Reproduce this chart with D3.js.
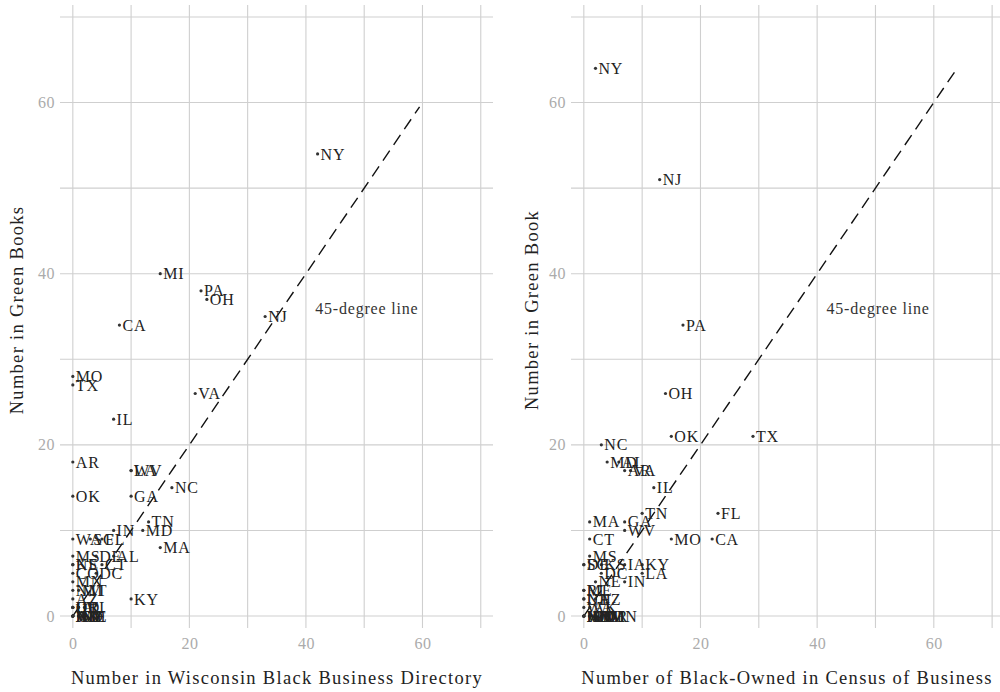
<!DOCTYPE html>
<html>
<head>
<meta charset="utf-8">
<script src="https://cdn.jsdelivr.net/npm/d3@7"></script>
<style>
  body { margin: 0; background: #fff; }
  text { font-family: "Liberation Serif", "DejaVu Serif", serif; }
</style>
</head>
<body>
<svg id="chart" width="1000" height="692"></svg>
<script>
// left panel: Wisconsin directory vs Green Books
var wiStates = ["NY","MI","PA","OH","NJ","CA","MO","TX","VA","IL","AR","LA","WV","GA","OK","NC","TN","MD","IN","MA","KY",
                "WA","SC","FL","MS","DE","AL","NE","KS","CT","CO","DC","MN","NM","MT","AZ","OR","IA","ID","RI","UT",
                "AK","NH","ND","SD","WY","VT","ME","HI","NV"];
var wiDirectory = [42,15,22,23,33,8,0,0,21,7,0,10,10,10,0,17,13,12,7,15,10,
                   0,3,5,0,4,7,0,0,5,0,4,0,0,1,0,0,0,1,2,0,
                   0,1,0,1,0,0,1,0,0];
var wiGreenBook = [54,40,38,37,35,34,28,27,26,23,18,17,17,14,14,15,11,10,10,8,2,
                   9,9,9,7,7,7,6,6,6,5,5,4,3,3,2,1,1,1,1,1,
                   0,0,0,0,0,0,0,0,0];

// right panel: census of business vs Green Book
var cbStates = ["NY","NJ","PA","OH","OK","TX","NC","MD","AL","AR","VA","IL","TN","FL","MA","GA","WV","CT","MO","CA","MS",
                "DE","SC","KS","IA","KY","DC","LA","NE","IN","RI","ME","NH","UT","AZ","WA","AK",
                "MT","ND","SD","WY","VT","HI","NV","NM","OR","ID","MN","CO","MI"];
var cbCensus = [2,13,17,14,15,29,3,4,6,7,8,12,10,23,1,7,7,1,15,22,1,
                0,0,3,7,10,3,10,2,7,0,0,0,0,2,0,1,
                0,0,1,0,1,0,2,2,3,0,4,1,3];
var cbGreenBook = [64,51,34,26,21,21,20,18,18,17,17,15,12,12,11,11,10,9,9,9,7,
                   6,6,6,6,6,5,5,4,4,3,3,2,2,2,1,1,
                   0,0,0,0,0,0,0,0,0,0,0,0,0];

var xTicks = [0, 20, 40, 60];
var xMinor = [10, 30, 50, 70];
var yTicks = [0, 20, 40, 60];
var yMinor = [10, 30, 50, 70];

var svg = d3.select("#chart");

function panel(opts) {
    var x = d3.scaleLinear().domain(opts.xDomain).range(opts.xRange);
    var y = d3.scaleLinear().domain([-1.4, 71.4]).range([628, 5]);
    var g = svg.append("g");

    var grid = g.append("g").attr("stroke", "#cfcfcf").attr("stroke-width", 1.1);
    grid.selectAll("line.v").data(xTicks.concat(xMinor)).enter().append("line")
        .attr("x1", function (d) { return x(d); }).attr("x2", function (d) { return x(d); })
        .attr("y1", y.range()[0]).attr("y2", y.range()[1]);
    grid.selectAll("line.h").data(yTicks.concat(yMinor)).enter().append("line")
        .attr("y1", function (d) { return y(d); }).attr("y2", function (d) { return y(d); })
        .attr("x1", x.range()[0]).attr("x2", x.range()[1]);

    // axes, tick labels only
    var xAxis = g.append("g").attr("transform", "translate(0,628)")
        .call(d3.axisBottom(x).tickValues(xTicks).tickSize(0).tickPadding(10));
    var yAxis = g.append("g").attr("transform", "translate(" + x.range()[0] + ",0)")
        .call(d3.axisLeft(y).tickValues(yTicks).tickSize(0).tickPadding(5));
    [xAxis, yAxis].forEach(function (a) {
        a.select(".domain").remove();
        a.selectAll("text").attr("fill", "#ababab").style("font-size", "16px")
            .style("letter-spacing", "0.5px")
            .style("font-family", "'Liberation Serif', serif");
    });

    // 45-degree line
    g.append("line")
        .attr("x1", x(0)).attr("y1", y(0))
        .attr("x2", x(opts.lineMax)).attr("y2", y(opts.lineMax))
        .attr("stroke", "#111").attr("stroke-width", 1.4)
        .attr("stroke-dasharray", "12,7");
    g.append("text").attr("x", x(41.6)).attr("y", y(35.9)).attr("dy", "0.35em")
        .attr("fill", "#333").style("font-size", "16px").style("letter-spacing", "0.8px")
        .text("45-degree line");

    var pts = opts.states.map(function (s, i) { return { s: s, x: opts.xs[i], y: opts.ys[i] }; });
    g.selectAll("circle").data(pts).enter().append("circle")
        .attr("cx", function (d) { return x(d.x); })
        .attr("cy", function (d) { return y(d.y); })
        .attr("r", 1.6).attr("fill", "#333");
    g.selectAll("text.lab").data(pts).enter().append("text")
        .attr("class", "lab")
        .attr("x", function (d) { return x(d.x) + 3; })
        .attr("y", function (d) { return y(d.y); })
        .attr("dy", "0.35em")
        .attr("fill", "#222").style("font-size", "16px").style("letter-spacing", "0.8px")
        .text(function (d) { return d.s; });

    g.append("text").attr("x", opts.titleX).attr("y", 684).attr("text-anchor", "middle")
        .attr("fill", "#222").style("font-size", "18.5px").style("letter-spacing", "1.3px")
        .text(opts.xTitle);
    g.append("text").attr("transform", "translate(" + opts.yTitleX + ",310) rotate(-90)")
        .attr("text-anchor", "middle").attr("fill", "#222").style("font-size", "18.5px")
        .style("letter-spacing", "1.3px")
        .text(opts.yTitle);
}

panel({
    states: wiStates, xs: wiDirectory, ys: wiGreenBook,
    xDomain: [-2.2, 72.1], xRange: [60, 493], lineMax: 59.5,
    xTitle: "Number in Wisconsin Black Business Directory", titleX: 277,
    yTitle: "Number in Green Books", yTitleX: 23
});
panel({
    states: cbStates, xs: cbCensus, ys: cbGreenBook,
    xDomain: [-2.2, 71.35], xRange: [571, 1000], lineMax: 63.9,
    xTitle: "Number of Black-Owned in Census of Business", titleX: 787,
    yTitle: "Number in Green Book", yTitleX: 538
});
</script>
</body>
</html>
